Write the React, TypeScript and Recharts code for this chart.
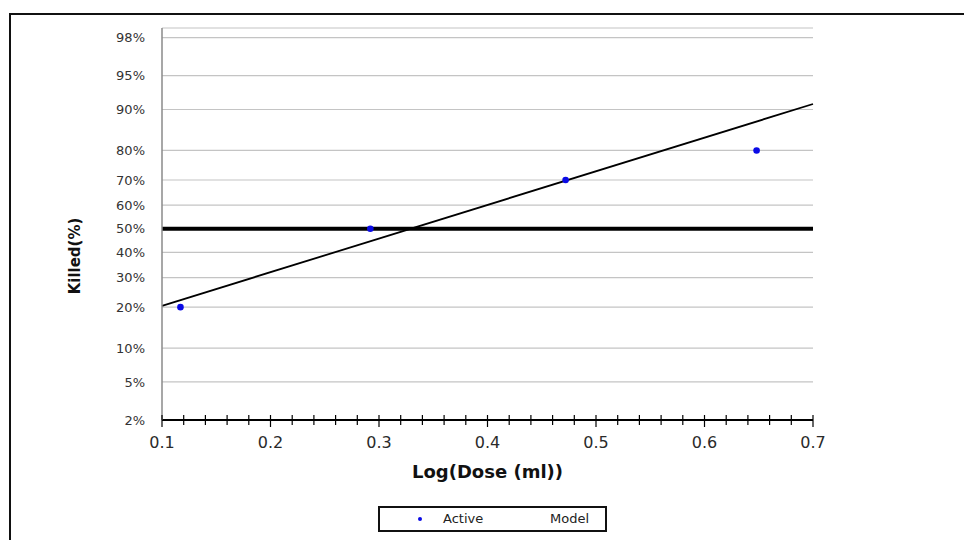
import React from "react";
import { ComposedChart, Line, Scatter, XAxis, YAxis, CartesianGrid, ReferenceLine } from "recharts";

// observed doses (log) and percent killed
const activeLogDose = [0.117, 0.292, 0.472, 0.648];
const activeKilled = [20, 50, 70, 80];

// fitted probit model, read at the plot edges
const modelLogDose = [0.1, 0.7];
const modelKilled = [20.4, 91.0];

const yTickPercents = [2, 5, 10, 20, 30, 40, 50, 60, 70, 80, 90, 95, 98];
const yTopPercent = 98.45;
const xMajorTicks = [0.1, 0.2, 0.3, 0.4, 0.5, 0.6, 0.7];
const xMinorTicks = [
  0.12, 0.14, 0.16, 0.18, 0.22, 0.24, 0.26, 0.28, 0.32, 0.34, 0.36, 0.38,
  0.42, 0.44, 0.46, 0.48, 0.52, 0.54, 0.56, 0.58, 0.62, 0.64, 0.66, 0.68,
];

const FONT = "'DejaVu Sans', Verdana, sans-serif";

// inverse normal cdf (Acklam) - probability axis
function probit(pct: number) {
  const p = pct / 100;
  const a = [-39.69683028665376, 220.9460984245205, -275.9285104469687, 138.357751867269, -30.66479806614716, 2.506628277459239];
  const b = [-54.47609879822406, 161.5858368580409, -155.6989798598866, 66.80131188771972, -13.28068155288572];
  const c = [-0.007784894002430293, -0.3223964580411365, -2.400758277161838, -2.549732539343734, 4.374664141464968, 2.938163982698783];
  const d = [0.007784695709041462, 0.3224671290700398, 2.445134137142996, 3.754408661907416];
  const plow = 0.02425;
  if (p < plow || p > 1 - plow) {
    const q = Math.sqrt(-2 * Math.log(p < plow ? p : 1 - p));
    const v = (((((c[0] * q + c[1]) * q + c[2]) * q + c[3]) * q + c[4]) * q + c[5]) / ((((d[0] * q + d[1]) * q + d[2]) * q + d[3]) * q + 1);
    return p < plow ? v : -v;
  }
  const q = p - 0.5;
  const r = q * q;
  return ((((((a[0] * r + a[1]) * r + a[2]) * r + a[3]) * r + a[4]) * r + a[5]) * q) /
    (((((b[0] * r + b[1]) * r + b[2]) * r + b[3]) * r + b[4]) * r + 1);
}

const yTicks = yTickPercents.map(probit);
const yDomain = [probit(yTickPercents[0]), probit(yTopPercent)];
const xTicks = [...xMajorTicks, ...xMinorTicks].sort((a, b) => a - b);

const activeData = activeLogDose.map((x, i) => ({ x, z: probit(activeKilled[i]) }));
const modelData = modelLogDose.map((x, i) => ({ x, z: probit(modelKilled[i]) }));

const fmtY = (v: number) => {
  const i = yTicks.findIndex((t) => Math.abs(t - v) < 1e-6);
  return i >= 0 ? `${yTickPercents[i]}%` : "";
};

function XTick(props: any) {
  const { x, y, payload } = props;
  const v = payload.value;
  const major = xMajorTicks.some((t) => Math.abs(t - v) < 1e-6);
  return (
    <g>
      <line x1={x} x2={x} y1={y - 5} y2={y + (major ? 7 : 5)} stroke="#000" strokeWidth={1.2} />
      {major && (
        <text x={x} y={y + 28} textAnchor="middle" fontSize={16} fill="#2a2a2a" fontFamily={FONT}>
          {v.toFixed(1)}
        </text>
      )}
    </g>
  );
}

function Dot(props: any) {
  return <circle cx={props.cx} cy={props.cy} r={3.3} fill="#0a0ae6" />;
}

export default function App() {
  return (
    <div style={{ position: "fixed", left: 0, top: 0, width: 964, height: 540, overflow: "hidden", background: "#fff" }}>
      <div
        style={{
          position: "absolute",
          left: 9,
          top: 13,
          width: 1000,
          height: 600,
          border: "2px solid #111",
          boxSizing: "border-box",
        }}
      />
      <ComposedChart
        width={964}
        height={540}
        margin={{ top: 28, right: 151, bottom: 0, left: 0 }}
        style={{ position: "absolute", left: 0, top: 0, fontFamily: FONT }}
      >
        <CartesianGrid horizontal vertical={false} stroke="#c4c4c4" strokeWidth={1.2} />
        <XAxis
          dataKey="x"
          type="number"
          domain={[0.1, 0.7]}
          ticks={xTicks}
          interval={0}
          height={120}
          tickLine={false}
          tickSize={0}
          tickMargin={0}
          tick={XTick}
          axisLine={{ stroke: "#000", strokeWidth: 2.2 }}
          label={{
            content: (p: any) => (
              <text
                x={p.viewBox.x + p.viewBox.width / 2}
                y={p.viewBox.y + 58}
                textAnchor="middle"
                fontSize={18}
                fontWeight="bold"
                fill="#111"
                fontFamily={FONT}
              >
                Log(Dose (ml))
              </text>
            ),
          }}
        />
        <XAxis
          xAxisId="top"
          orientation="top"
          type="number"
          domain={[0.1, 0.7]}
          height={0}
          tick={false}
          tickLine={false}
          axisLine={{ stroke: "#8a8a8a", strokeWidth: 1.5 }}
        />
        <YAxis
          dataKey="z"
          type="number"
          domain={yDomain}
          ticks={yTicks}
          interval={0}
          width={162}
          tickLine={false}
          tickSize={0}
          tickMargin={17}
          tickFormatter={fmtY}
          tick={{ fontSize: 13, fill: "#333", fontFamily: FONT }}
          axisLine={{ stroke: "#8a8a8a", strokeWidth: 1.5 }}
          label={{
            content: (p: any) => {
              const cx = p.viewBox.x + 75;
              const cy = p.viewBox.y + p.viewBox.height / 2 + 32;
              return (
                <text
                  x={cx}
                  y={cy}
                  transform={`rotate(-90 ${cx} ${cy})`}
                  textAnchor="middle"
                  dominantBaseline="central"
                  fontSize={15}
                  fontWeight="bold"
                  fill="#111"
                  fontFamily={FONT}
                >
                  Killed(%)
                </text>
              );
            },
          }}
        />
        <YAxis
          yAxisId="right"
          orientation="right"
          type="number"
          domain={yDomain}
          width={0}
          tick={false}
          tickLine={false}
          axisLine={{ stroke: "#8a8a8a", strokeWidth: 1.5 }}
        />
        <ReferenceLine y={0} stroke="#000" strokeWidth={4} />
        <Line
          data={modelData}
          dataKey="z"
          type="linear"
          stroke="#000"
          strokeWidth={1.8}
          dot={false}
          isAnimationActive={false}
          name="Model"
        />
        <Scatter data={activeData} dataKey="z" shape={Dot} isAnimationActive={false} name="Active" />
      </ComposedChart>
      <div
        style={{
          position: "absolute",
          left: 378,
          top: 506,
          width: 229,
          height: 26,
          border: "2px solid #111",
          boxSizing: "border-box",
          fontFamily: FONT,
          fontSize: 13,
          color: "#222",
        }}
      >
        <span style={{ position: "absolute", left: 38, top: 9, width: 4, height: 4, borderRadius: 2, background: "#0a0ae6" }} />
        <span style={{ position: "absolute", left: 63, top: 3 }}>Active</span>
        <span style={{ position: "absolute", left: 170, top: 3 }}>Model</span>
      </div>
    </div>
  );
}
